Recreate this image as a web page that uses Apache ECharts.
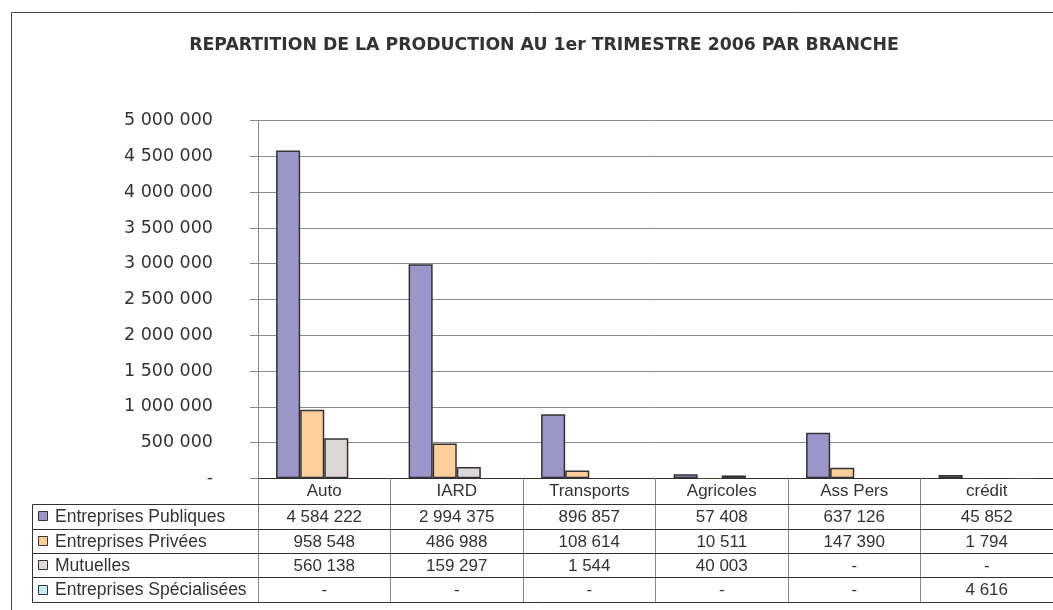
<!DOCTYPE html>
<html>
<head>
<meta charset="utf-8">
<script src="https://cdn.jsdelivr.net/npm/echarts@6/dist/echarts.min.js"></script>
<style>
html,body{margin:0;padding:0;background:#fff;}
#main{width:1053px;height:610px;}
</style>
</head>
<body>
<div id="main"></div>
<script>
const titleText = 'REPARTITION DE LA PRODUCTION AU 1er TRIMESTRE 2006 PAR BRANCHE';
const categories = ['Auto', 'IARD', 'Transports', 'Agricoles', 'Ass Pers', 'crédit'];
const seriesNames = ['Entreprises Publiques', 'Entreprises Privées', 'Mutuelles', 'Entreprises Spécialisées'];
const publiques = [4584222, 2994375, 896857, 57408, 637126, 45852];
const privees = [958548, 486988, 108614, 10511, 147390, 1794];
const mutuelles = [560138, 159297, 1544, 40003, null, null];
const specialisees = [null, null, null, null, null, 4616];
const seriesColors = ['#9b95c9', '#fdd09b', '#dcd8d8', '#c8ecf6'];
const yMin = 0, yMax = 5000000, yInterval = 500000;

const seriesData = [publiques, privees, mutuelles, specialisees];

function fmt(v) {
  if (v === null || v === undefined || v === 0) return '-';
  return String(v).replace(/\B(?=(\d{3})+(?!\d))/g, ' ');
}

const chart = echarts.init(document.getElementById('main'), null, {renderer: 'canvas'});

const option = {
  animation: false,
  backgroundColor: '#ffffff',
  grid: {left: 258, top: 120.7, height: 357.6, width: 799, containLabel: false},
  xAxis: {
    type: 'category',
    data: categories,
    axisLine: {show: true, lineStyle: {color: '#333', width: 1}},
    axisTick: {show: true, interval: 0, alignWithLabel: false, length: 123.5, lineStyle: {color: '#888', width: 1}},
    axisLabel: {
      interval: 0, margin: 13, verticalAlign: 'middle',
      fontFamily: 'Liberation Sans', fontSize: 17, color: '#333'
    },
    splitLine: {show: false}
  },
  yAxis: {
    type: 'value',
    min: yMin, max: yMax, interval: yInterval,
    axisLine: {show: true, lineStyle: {color: '#888', width: 1}},
    axisTick: {show: true, length: 8, inside: false, lineStyle: {color: '#888'}},
    axisLabel: {
      margin: 45, fontFamily: 'DejaVu Sans', fontSize: 17.5, color: '#333',
      formatter: v => fmt(v)
    },
    splitLine: {show: true, lineStyle: {color: '#8a8a8a', width: 1}}
  },
  series: seriesNames.map((name, i) => ({
    name: name,
    type: 'bar',
    data: seriesData[i].map(v => (v !== null && v < 15000)
      ? {value: v, itemStyle: {borderWidth: 0, opacity: 0.35}}
      : v),
    barGap: '0%',
    barCategoryGap: '27.3%',
    itemStyle: {color: seriesColors[i], borderColor: '#333', borderWidth: 1.5}
  }))
};

chart.setOption(option);

// Build title, border and data table using the chart's own scales
const graphics = [];
graphics.push({
  type: 'rect', z: 0, silent: true,
  shape: {x: 11.5, y: 12.5, width: 1100, height: 700},
  style: {fill: null, stroke: '#444', lineWidth: 1}
});
graphics.push({
  type: 'text', z: 10,
  x: 544, y: 45.5,
  style: {text: titleText, fill: '#333', font: 'bold 17.3px "DejaVu Sans"', align: 'center', verticalAlign: 'middle'}
});

const axisY = chart.convertToPixel({yAxisIndex: 0}, 0);
const c0 = chart.convertToPixel({xAxisIndex: 0}, 0);
const c1 = chart.convertToPixel({xAxisIndex: 0}, 1);
const band = c1 - c0;
const tableLeft = 32.5;
const headerH = 26;
const rowH = 24.35;
const rightEdge = c0 - band / 2 + band * categories.length + 10;
const firstRowTop = axisY + headerH;

for (let r = 0; r <= seriesNames.length; r++) {
  const y = Math.round(firstRowTop + r * rowH) + 0.5;
  graphics.push({type: 'line', z: 5, silent: true,
    shape: {x1: tableLeft, y1: y, x2: rightEdge, y2: y},
    style: {stroke: '#333', lineWidth: 1}});
}
graphics.push({type: 'line', z: 5, silent: true,
  shape: {x1: tableLeft, y1: Math.round(firstRowTop) + 0.5, x2: tableLeft, y2: Math.round(firstRowTop + seriesNames.length * rowH) + 0.5},
  style: {stroke: '#333', lineWidth: 1}});

seriesNames.forEach((name, r) => {
  const cy = firstRowTop + (r + 0.5) * rowH;
  graphics.push({type: 'rect', z: 6, silent: true,
    shape: {x: 38.5, y: Math.round(cy - 5) + 0.5, width: 9, height: 9},
    style: {fill: seriesColors[r], stroke: '#333', lineWidth: 1}});
  graphics.push({type: 'text', z: 6, silent: true,
    x: 55, y: cy + 1,
    style: {text: name, fill: '#333', font: '17.5px "Liberation Sans"', align: 'left', verticalAlign: 'middle'}});
  seriesData[r].forEach((v, c) => {
    const cx = chart.convertToPixel({xAxisIndex: 0}, c);
    graphics.push({type: 'text', z: 6, silent: true,
      x: cx, y: cy + 1,
      style: {text: fmt(v), fill: '#333', font: '17px "Liberation Sans"', align: 'center', verticalAlign: 'middle'}});
  });
});

chart.setOption({graphic: {elements: graphics}});
</script>
</body>
</html>
